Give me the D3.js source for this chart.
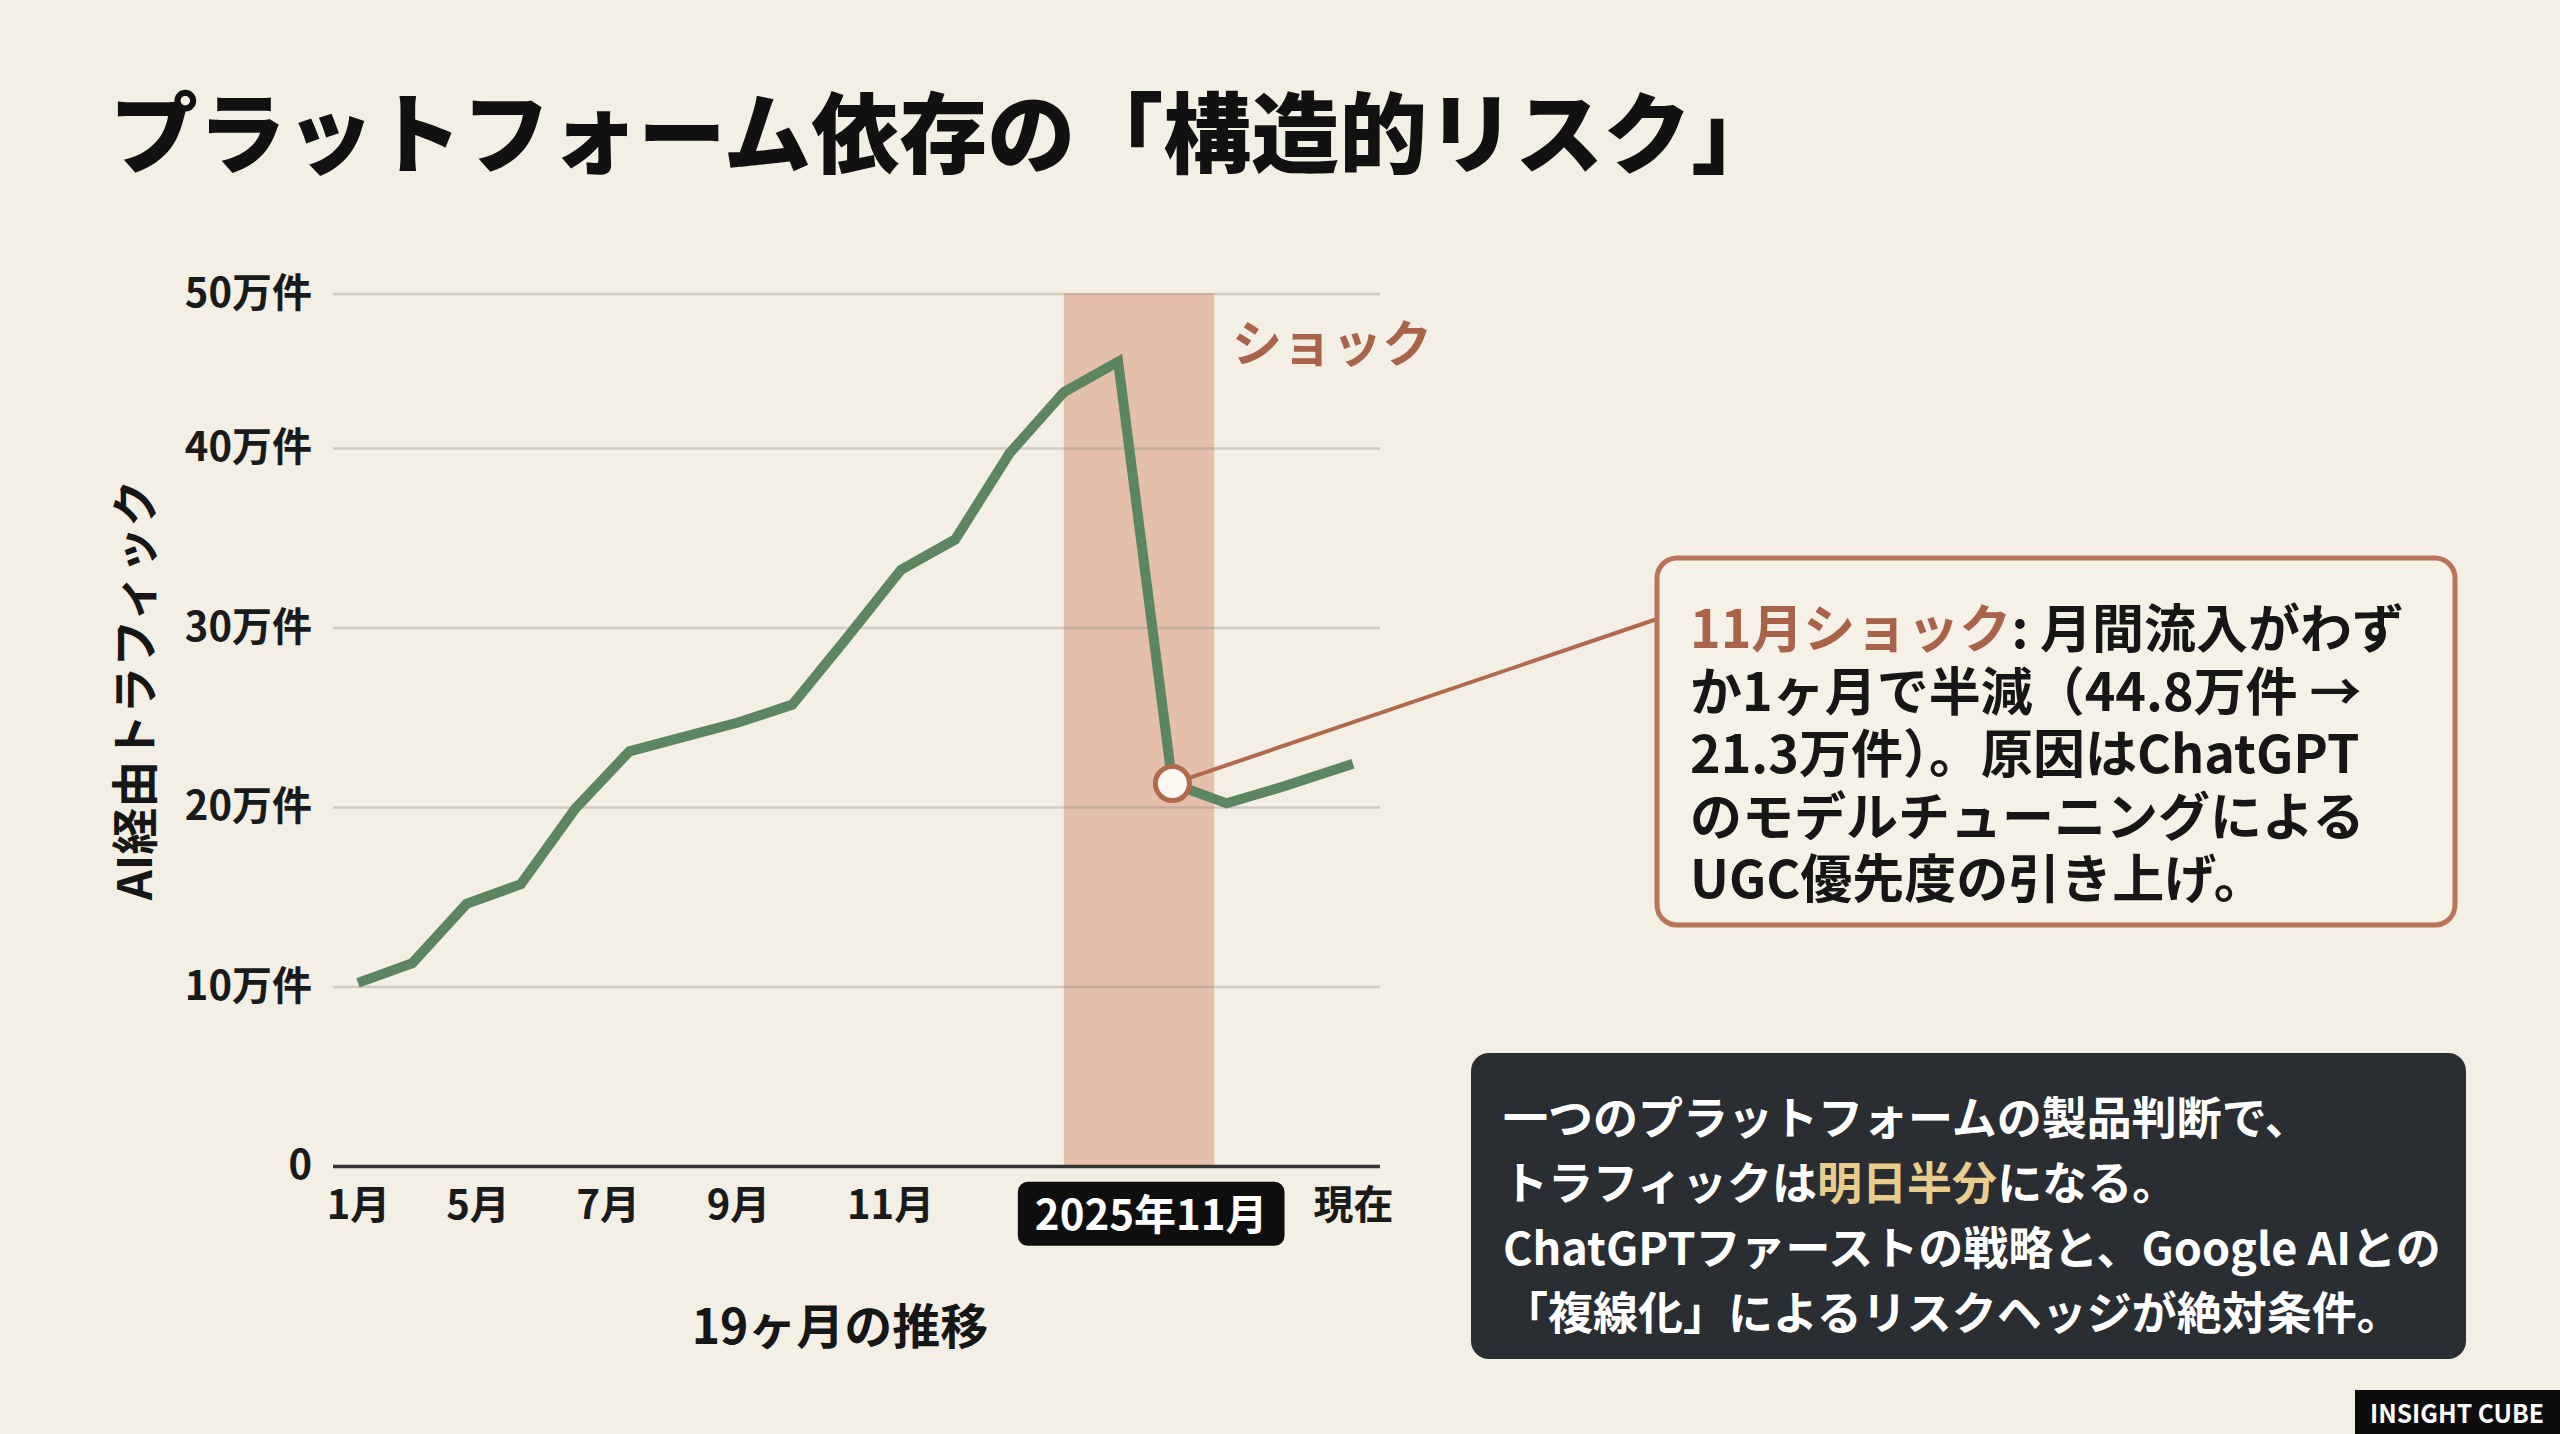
<!DOCTYPE html>
<html lang="ja">
<head>
<meta charset="utf-8">
<script src="https://cdn.jsdelivr.net/npm/d3@7"></script>
<style>
  html, body { margin: 0; padding: 0; background: #f4efe4; }
  svg { display: block; }
  text { font-family: "Noto Sans CJK JP", "Noto Sans", sans-serif; }
</style>
</head>
<body>
<div id="chart"></div>
<script>

// data (万件, one point per month, 19 months)
let traffic = [10.2, 11.3, 14.6, 15.7, 19.9, 23.1, 23.9, 24.7, 25.7, 29.4,
    33.2, 34.9, 39.7, 43.1, 44.8, 21.3, 20.2, 21.1, 22.4];

let yTickValues = [0, 10, 20, 30, 40, 48.6];
let yTickLabels = ["0", "10万件", "20万件", "30万件", "40万件", "50万件"];

// month index where each x label sits
let xTickValues = [0, 2.2, 4.6, 7, 9.8, 14.6, 18];
let xTickLabels = ["1月", "5月", "7月", "9月", "11月", "2025年11月", "現在"];
let highlightTick = 5;

let shockBand = [13, 15.77];
let shockIdx = 15;

let calloutLines = [
    [["11月ショック", "#a8634a"], [": 月間流入がわず", "#161616"]],
    [["か1ヶ月で半減（44.8万件 →", "#161616"]],
    [["21.3万件）。原因はChatGPT", "#161616"]],
    [["のモデルチューニングによる", "#161616"]],
    [["UGC優先度の引き上げ。", "#161616"]]
];

let messageLines = [
    [["一つのプラットフォームの製品判断で、", "#ffffff"]],
    [["トラフィックは", "#ffffff"], ["明日半分", "#e8cd8c"], ["になる。", "#ffffff"]],
    [["ChatGPTファーストの戦略と、Google AIとの", "#ffffff"]],
    [["「複線化」によるリスクヘッジが絶対条件。", "#ffffff"]]
];

let svgWidth = 2560;
let svgHeight = 1434;

let brown = "#b06a4e";
let green = "#5b8661";

let svg = d3.select("#chart")
    .append("svg")
    .attr("width", svgWidth)
    .attr("height", svgHeight);

svg.append("rect")
    .attr("width", svgWidth)
    .attr("height", svgHeight)
    .attr("fill", "#f4efe4");

// title
svg.append("text")
    .attr("x", 110)
    .attr("y", 127)
    .attr("dominant-baseline", "central")
    .attr("font-size", 88)
    .attr("font-weight", 900)
    .attr("fill", "#111")
    .text("プラットフォーム依存の「構造的リスク」");

// scales: last step (to 現在) is a bit wider in the picture
let x = d3.scaleLinear()
    .domain([0, 17, 18])
    .range([358, 1281, 1353]);

let y = d3.scaleLinear()
    .domain([0, 48.6])
    .range([1166, 293.5]);

let gridLeft = 333;
let gridRight = 1380;

// shock band
svg.append("rect")
    .attr("x", x(shockBand[0]))
    .attr("width", x(shockBand[1]) - x(shockBand[0]))
    .attr("y", y(48.6))
    .attr("height", y(0) - y(48.6))
    .attr("fill", "#d08a6c")
    .attr("opacity", 0.47);

// y axis + gridlines
let yAxis = svg.append("g")
    .attr("transform", `translate(${gridLeft},0)`)
    .call(d3.axisLeft(y)
        .tickValues(yTickValues)
        .tickFormat((d, i) => yTickLabels[i])
        .tickSize(-(gridRight - gridLeft))
        .tickPadding(21));

yAxis.attr("font-family", null).attr("font-size", null);
yAxis.select(".domain").remove();
yAxis.selectAll(".tick line")
    .attr("stroke", "#8f8a80")
    .attr("stroke-opacity", 0.35)
    .attr("stroke-width", 2.5);
yAxis.selectAll(".tick")
    .filter(d => d === 0)
    .select("line")
    .attr("stroke", "#333")
    .attr("stroke-opacity", 1)
    .attr("stroke-width", 3.5);
yAxis.selectAll(".tick text")
    .attr("font-size", 40)
    .attr("font-weight", 700)
    .attr("fill", "#1a1a1a");

// x axis labels
let xAxis = svg.append("g")
    .attr("transform", `translate(0,${y(0)})`)
    .call(d3.axisBottom(x)
        .tickValues(xTickValues)
        .tickFormat((d, i) => xTickLabels[i])
        .tickSize(0)
        .tickPadding(25));

xAxis.attr("font-family", null).attr("font-size", null);
xAxis.select(".domain").remove();
xAxis.selectAll(".tick text")
    .attr("font-size", 40)
    .attr("font-weight", 700)
    .attr("fill", "#1a1a1a");

// highlighted month label in a black pill
let hl = xAxis.selectAll(".tick").filter((d, i) => i === highlightTick);
let hlText = hl.select("text")
    .attr("font-size", 42)
    .attr("y", 34)
    .attr("fill", "#fff");
let bb = hlText.node().getBBox();
hl.insert("rect", "text")
    .attr("x", bb.x - 17)
    .attr("y", bb.y + 1)
    .attr("width", bb.width + 34)
    .attr("height", bb.height + 3)
    .attr("rx", 10)
    .attr("fill", "#0e0e0e");

// axis titles
svg.append("text")
    .attr("transform", "translate(131,690) rotate(-90)")
    .attr("text-anchor", "middle")
    .attr("dominant-baseline", "central")
    .attr("font-size", 47)
    .attr("font-weight", 700)
    .attr("fill", "#161616")
    .text("AI経由トラフィック");

svg.append("text")
    .attr("x", 840)
    .attr("y", 1323)
    .attr("text-anchor", "middle")
    .attr("dominant-baseline", "central")
    .attr("font-size", 48)
    .attr("font-weight", 700)
    .attr("fill", "#161616")
    .text("19ヶ月の推移");

svg.append("text")
    .attr("x", 1232)
    .attr("y", 340)
    .attr("dominant-baseline", "central")
    .attr("font-size", 50)
    .attr("font-weight", 700)
    .attr("fill", "#a8634a")
    .text("ショック");

// traffic line
let line = d3.line()
    .x((d, i) => x(i))
    .y(d => y(d));

svg.append("path")
    .datum(traffic)
    .attr("d", line)
    .attr("fill", "none")
    .attr("stroke", green)
    .attr("stroke-width", 10)
    .attr("stroke-linejoin", "miter");

// callout box
let box = {x: 1657, y: 558, w: 798, h: 367};

svg.append("line")
    .attr("x1", x(shockIdx))
    .attr("y1", y(traffic[shockIdx]))
    .attr("x2", box.x)
    .attr("y2", 619)
    .attr("stroke", brown)
    .attr("stroke-width", 4);

svg.append("circle")
    .attr("cx", x(shockIdx))
    .attr("cy", y(traffic[shockIdx]))
    .attr("r", 17)
    .attr("fill", "#fbf8f1")
    .attr("stroke", brown)
    .attr("stroke-width", 5);

svg.append("rect")
    .attr("x", box.x)
    .attr("y", box.y)
    .attr("width", box.w)
    .attr("height", box.h)
    .attr("rx", 20)
    .attr("fill", "#f6f1e7")
    .attr("stroke", "#b8735a")
    .attr("stroke-width", 5);

let callout = svg.append("g");
calloutLines.forEach(function(parts, i) {
    let t = callout.append("text")
        .attr("x", 1690)
        .attr("y", 625 + i * 62.6)
        .attr("dominant-baseline", "central")
        .attr("font-size", 52)
        .attr("font-weight", 700);
    parts.forEach(p => t.append("tspan").attr("fill", p[1]).text(p[0]));
});

// message box
svg.append("rect")
    .attr("x", 1471)
    .attr("y", 1053)
    .attr("width", 995)
    .attr("height", 306)
    .attr("rx", 18)
    .attr("fill", "#2a2d32");

let message = svg.append("g");
messageLines.forEach(function(parts, i) {
    let t = message.append("text")
        .attr("x", 1503)
        .attr("y", 1115 + i * 65)
        .attr("dominant-baseline", "central")
        .attr("font-size", 45)
        .attr("font-weight", 700);
    parts.forEach(p => t.append("tspan").attr("fill", p[1]).text(p[0]));
});

// badge
svg.append("rect")
    .attr("x", 2355)
    .attr("y", 1390)
    .attr("width", 205)
    .attr("height", 44)
    .attr("fill", "#0d0d0d");

svg.append("text")
    .attr("x", 2457)
    .attr("y", 1411)
    .attr("text-anchor", "middle")
    .attr("dominant-baseline", "central")
    .attr("font-family", "'Liberation Sans Narrow', Roboto, sans-serif")
    .attr("font-size", 26)
    .attr("font-weight", 700)
    .attr("fill", "#fff")
    .attr("textLength", 174)
    .attr("lengthAdjust", "spacingAndGlyphs")
    .text("INSIGHT CUBE");

</script>
</body>
</html>
